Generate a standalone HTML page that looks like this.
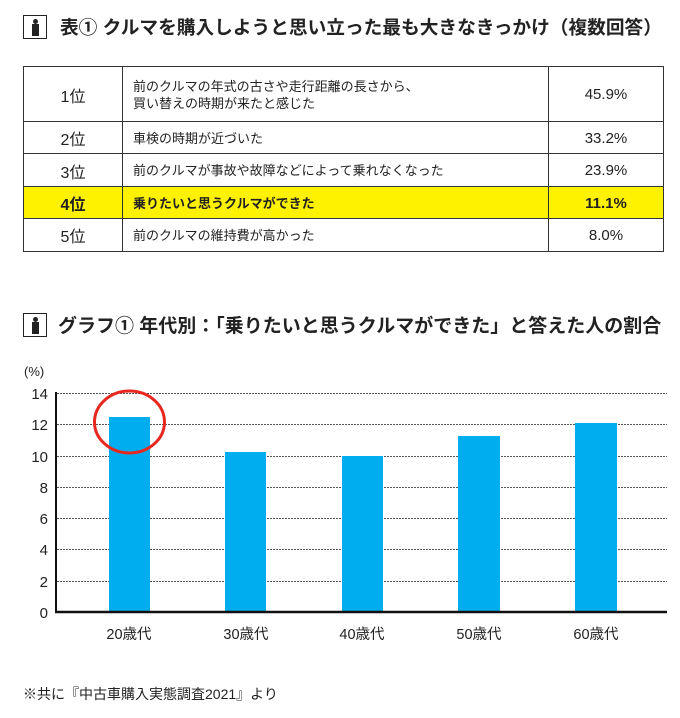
<!DOCTYPE html>
<html><head><meta charset="utf-8"><style>
body{margin:0;width:680px;height:718px;background:#fff;font-family:"Liberation Sans","Noto Sans CJK JP",sans-serif;color:#222;position:relative;overflow:hidden}
.t{position:absolute;white-space:nowrap}
.icon{position:absolute;width:24px;height:24px;border:1.5px solid #222;box-sizing:border-box}
.icon::before{content:"";position:absolute;left:9px;top:3px;width:5px;height:5px;border-radius:50%;background:#222}
.icon::after{content:"";position:absolute;left:8px;top:8px;width:7px;height:12px;background:#222}
.row{position:absolute;left:23px;width:641px;box-sizing:border-box;border:1.5px solid #333;border-bottom:none}
.row div{position:absolute;top:0;bottom:0;display:flex;align-items:center}
.c1{left:0;width:98px;justify-content:center;font-size:16px;border-right:1.5px solid #333}
.c2{left:99px;width:415px;padding-left:10px;font-size:13px;line-height:17px;border-right:1.5px solid #333}
.c3{left:525px;right:0;justify-content:center;font-size:15px}
.y{background:#fff200;font-weight:bold}
</style></head><body>
<div class="icon" style="left:23px;top:15px"></div>
<div class="t" style="left:60px;top:13px;font-size:18.7px;font-weight:bold">表① クルマを購入しようと思い立った最も大きなきっかけ（複数回答）</div>
<div class="row" style="top:66px;height:56px"><div class="c1">1位</div><div class="c2">前のクルマの年式の古さや走行距離の長さから、<br>買い替えの時期が来たと感じた</div><div class="c3">45.9%</div></div>
<div class="row" style="top:121px;height:33px"><div class="c1">2位</div><div class="c2">車検の時期が近づいた</div><div class="c3">33.2%</div></div>
<div class="row" style="top:153px;height:34px"><div class="c1">3位</div><div class="c2">前のクルマが事故や故障などによって乗れなくなった</div><div class="c3">23.9%</div></div>
<div class="row y" style="top:186px;height:33px"><div class="c1">4位</div><div class="c2">乗りたいと思うクルマができた</div><div class="c3">11.1%</div></div>
<div class="row" style="top:218px;height:34px;border-bottom:1.5px solid #333"><div class="c1">5位</div><div class="c2">前のクルマの維持費が高かった</div><div class="c3">8.0%</div></div>
<div class="icon" style="left:23px;top:313px"></div>
<div class="t" style="left:58px;top:311px;font-size:19px;font-weight:bold">グラフ① 年代別：「乗りたいと思うクルマができた」と答えた人の割合</div>
<svg style="position:absolute;left:0;top:0" width="680" height="718">
<g stroke="#555" stroke-width="1" stroke-dasharray="2,1">
<line x1="57" x2="667" y1="393.5" y2="393.5"/><line x1="57" x2="667" y1="424.5" y2="424.5"/><line x1="57" x2="667" y1="456.5" y2="456.5"/><line x1="57" x2="667" y1="487.5" y2="487.5"/><line x1="57" x2="667" y1="518.5" y2="518.5"/><line x1="57" x2="667" y1="549.5" y2="549.5"/><line x1="57" x2="667" y1="581.5" y2="581.5"/>
</g>
<g fill="#00aeef">
<rect x="109" y="417" width="41" height="195"/>
<rect x="225" y="452" width="41" height="160"/>
<rect x="342" y="456" width="41" height="156"/>
<rect x="458" y="436" width="42" height="176"/>
<rect x="575" y="423" width="42" height="189"/>
</g>
<line x1="56" x2="56" y1="392" y2="613" stroke="#111" stroke-width="2"/>
<line x1="55" x2="667" y1="612" y2="612" stroke="#111" stroke-width="2.5"/>
<ellipse cx="129.5" cy="422" rx="35" ry="31" fill="none" stroke="#e8281e" stroke-width="3"/>
<g font-size="15" fill="#222" text-anchor="end" font-family="Liberation Sans,sans-serif">
<text x="48" y="399">14</text><text x="48" y="430">12</text><text x="48" y="462">10</text><text x="48" y="493">8</text><text x="48" y="524">6</text><text x="48" y="555">4</text><text x="48" y="587">2</text><text x="48" y="618">0</text>
</g>
<text x="24" y="376" font-size="13" fill="#222">(%)</text>
<g font-size="14.5" fill="#222" text-anchor="middle" font-family="Liberation Sans,Noto Sans CJK JP,sans-serif">
<text x="129" y="639">20歳代</text><text x="246" y="639">30歳代</text><text x="362" y="639">40歳代</text><text x="479" y="639">50歳代</text><text x="596" y="639">60歳代</text>
</g>
</svg>
<div class="t" style="left:23px;top:684px;font-size:14px">※共に『中古車購入実態調査2021』より</div>
</body></html>
